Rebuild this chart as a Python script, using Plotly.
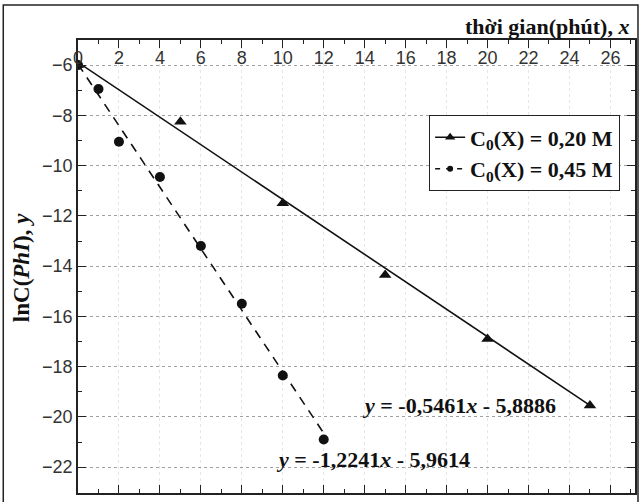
import plotly.graph_objects as go

# Data
x_020 = [0, 5, 10, 15, 20, 25]
y_020 = [-6.0, -8.25, -11.5, -14.35, -16.9, -19.55]
x_045 = [0, 1, 2, 4, 6, 8, 10, 12]
y_045 = [-6.0, -6.95, -9.05, -10.45, -13.2, -15.5, -18.35, -20.9]

# Fitted lines as printed on the chart
fit_020 = {"slope": -0.5461, "intercept": -5.8886, "x": [0, 25]}
fit_045 = {"slope": -1.2241, "intercept": -5.9614, "x": [0, 12]}

x_ticks = list(range(0, 27, 2))
y_ticks = list(range(-22, -5, 2))

SERIF = "Liberation Serif, Times New Roman, serif"
SANS = "Liberation Sans, Arial, sans-serif"

fig = go.Figure()

def line_y(f):
    return [f["slope"] * v + f["intercept"] for v in f["x"]]

fig.add_trace(go.Scatter(x=fit_020["x"], y=line_y(fit_020), mode="lines",
                         line=dict(color="#111", width=1.6), showlegend=False, hoverinfo="skip"))
fig.add_trace(go.Scatter(x=fit_045["x"], y=line_y(fit_045), mode="lines",
                         line=dict(color="#111", width=1.6, dash="9px,7px"), showlegend=False, hoverinfo="skip"))
fig.add_trace(go.Scatter(x=x_020, y=y_020, mode="markers",
                         marker=dict(symbol="triangle-up", size=11, color="#111"), showlegend=False))
fig.add_trace(go.Scatter(x=x_045, y=y_045, mode="markers",
                         marker=dict(symbol="circle", size=10, color="#111"), showlegend=False))

# legend-only traces
fig.add_trace(go.Scatter(x=[None], y=[None], mode="lines+markers",
                         line=dict(color="#111", width=1.6),
                         marker=dict(symbol="triangle-up", size=9, color="#111"),
                         name="<b>C<sub>0</sub>(X) = 0,20 M</b>"))
fig.add_trace(go.Scatter(x=[None], y=[None], mode="lines+markers",
                         line=dict(color="#111", width=1.6, dash="5px,6px"),
                         marker=dict(symbol="circle", size=6, color="#111"),
                         name="<b>C<sub>0</sub>(X) = 0,45 M</b>"))

axis_common = dict(showline=True, linecolor="#222", linewidth=1.5, mirror="ticks",
                   ticks="inside", ticklen=8, tickwidth=1.2, tickcolor="#222",
                   zeroline=False)

fig.update_layout(
    width=643, height=502,
    margin=dict(l=78, r=6, t=40, b=9),
    paper_bgcolor="white", plot_bgcolor="white",
    xaxis=dict(range=[0, 27.2], side="top", tickvals=x_ticks,
               ticklabelstandoff=-33,
               tickfont=dict(family=SANS, size=18, color="#333"),
               showgrid=True, gridcolor="#e6e6e6", griddash="dot", gridwidth=1,
               minor=dict(ticks="inside", ticklen=4, dtick=1, tickcolor="#222", showgrid=False),
               **axis_common),
    yaxis=dict(range=[-23.03, -5.0], tickvals=y_ticks,
               tickfont=dict(family=SANS, size=18, color="#333"),
               showgrid=True, gridcolor="#a0a0a0", griddash="dot", gridwidth=1,
               minor=dict(ticks="inside", ticklen=4, dtick=1, tickcolor="#222", showgrid=False),
               **axis_common),
    legend=dict(x=0.63, y=0.834, xanchor="left", yanchor="top",
                bgcolor="white", bordercolor="#222", borderwidth=1.2,
                font=dict(family=SERIF, size=22, color="#111"),
                itemwidth=30, tracegroupgap=4),
    showlegend=True,
)

annotations = [
    dict(text="<b>thời gian(phút), <i>x</i></b>", xref="paper", yref="paper", x=0.993, y=1.029,
         xanchor="right", yanchor="middle", showarrow=False,
         font=dict(family=SERIF, size=22, color="#111")),
    dict(text="<b>lnC(<i>PhI</i>), <i>y</i></b>", xref="paper", yref="paper", x=-0.1, y=0.497,
         xanchor="center", yanchor="middle", showarrow=False, textangle=-90,
         font=dict(family=SERIF, size=23, color="#111")),
    dict(text="<b><i>y</i> = -0,5461<i>x</i> - 5,8886</b>", xref="x", yref="y", x=23.45, y=-19.53,
         xanchor="right", yanchor="middle", showarrow=False,
         font=dict(family=SERIF, size=22, color="#111")),
    dict(text="<b><i>y</i> = -1,2241<i>x</i> - 5,9614</b>", xref="x", yref="y", x=9.59, y=-21.71,
         xanchor="left", yanchor="middle", showarrow=False,
         font=dict(family=SERIF, size=22, color="#111")),
]
fig.update_layout(annotations=annotations)

# outer frame of the figure
fig.add_shape(type="rect", xref="paper", yref="paper",
              x0=(3 - 78) / 559, x1=(640 - 78) / 559,
              y0=(493 - 520) / 453, y1=(493 - 5) / 453,
              line=dict(color="#222", width=1.5), fillcolor="rgba(0,0,0,0)", layer="below")

fig.write_html("out.html", post_script="document.body.style.margin='0';",
               config={"displayModeBar": False})
